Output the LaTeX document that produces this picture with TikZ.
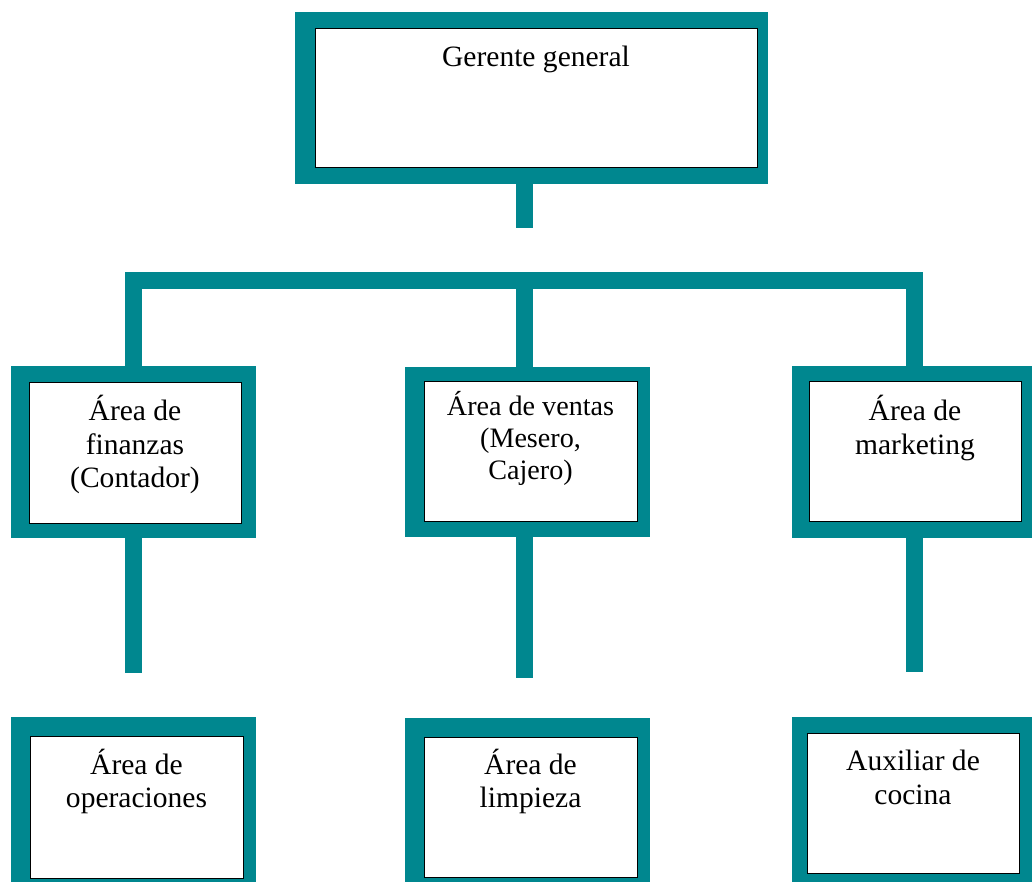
\documentclass[tikz,border=0pt]{standalone}
\usepackage{fontspec}
\setmainfont{Liberation Serif}
\definecolor{OrgTeal}{HTML}{00878F}
\newcommand{\px}{0.025cm}

\begin{document}
\begin{tikzpicture}[x=0.025cm, y=-0.025cm,
    frame/.style={fill=OrgTeal, draw=none, anchor=north west, inner sep=0pt, outer sep=0pt,
      minimum width=245*\px, minimum height=172*\px},
    panel/.style={fill=white, draw=black, line width=0.6pt, anchor=north west, inner sep=0pt, outer sep=0pt},
    link/.style={draw=OrgTeal, line width=17*\px},
    lbl/.style={anchor=north, align=center, inner sep=0pt, font=\fontsize{21}{23.8}\selectfont}]
    % Page frame
    \clip (0,0) rectangle (1032,881);

    % Gerente general (top)
    \node[frame, minimum width=473*\px] (gg) at (295,12) {};
    \node[panel, minimum width=442*\px, minimum height=139*\px] (gg-in) at (315,28) {};
    \node[lbl] (gg-txt) at (536,46) {Gerente general};

    % Second level: finanzas, ventas, marketing
    \node[frame] (fin) at (11,366) {};
    \node[panel, minimum width=212*\px, minimum height=141*\px] (fin-in) at (29,382) {};
    \node[lbl] (fin-txt) at (135,395) {Área de\\finanzas\\(Contador)};

    \node[frame, minimum height=170*\px] (ven) at (405,367) {};
    \node[panel, minimum width=213*\px, minimum height=140*\px] (ven-in) at (424,381) {};
    \node[lbl, font=\fontsize{20}{22.8}\selectfont] (ven-txt) at (530.5,391) {Área de ventas\\(Mesero,\\Cajero)};

    \node[frame] (mkt) at (792,366) {};
    \node[panel, minimum width=212*\px, minimum height=140*\px] (mkt-in) at (809,381) {};
    \node[lbl] (mkt-txt) at (915,395) {Área de\\marketing};

    % Third level: operaciones, limpieza, cocina
    \node[frame, minimum height=180*\px] (ope) at (11,717) {};
    \node[panel, minimum width=213*\px, minimum height=142*\px] (ope-in) at (30,736) {};
    \node[lbl] (ope-txt) at (136.5,748.5) {Área de\\operaciones};

    \node[frame, minimum height=180*\px] (lim) at (405,718) {};
    \node[panel, minimum width=213*\px, minimum height=140*\px] (lim-in) at (424,737) {};
    \node[lbl] (lim-txt) at (530.5,748.5) {Área de\\limpieza};

    \node[frame, minimum height=180*\px] (aux) at (792,717) {};
    \node[panel, minimum width=212*\px, minimum height=140*\px] (aux-in) at (807,733) {};
    \node[lbl] (aux-txt) at (913,750) {Auxiliar de\\cocina};

    % Free ends of the connectors
    \coordinate (gg-stem) at (524,228);
    \coordinate (hub) at (524.5,280.5);
    \coordinate (fin-stem) at (133.5,673);
    \coordinate (ven-stem) at (524.5,678);
    \coordinate (mkt-stem) at (914.5,672);

    % Connectors
    \draw[link] (gg-stem |- gg.south) -- (gg-stem);
    \draw[link] (fin.north) |- (hub) -| (mkt.north);
    \draw[link] (hub) -- (hub |- ven.north);
    \draw[link] (fin-stem |- fin.south) -- (fin-stem);
    \draw[link] (ven-stem |- ven.south) -- (ven-stem);
    \draw[link] (mkt-stem |- mkt.south) -- (mkt-stem);
\end{tikzpicture}
\end{document}
